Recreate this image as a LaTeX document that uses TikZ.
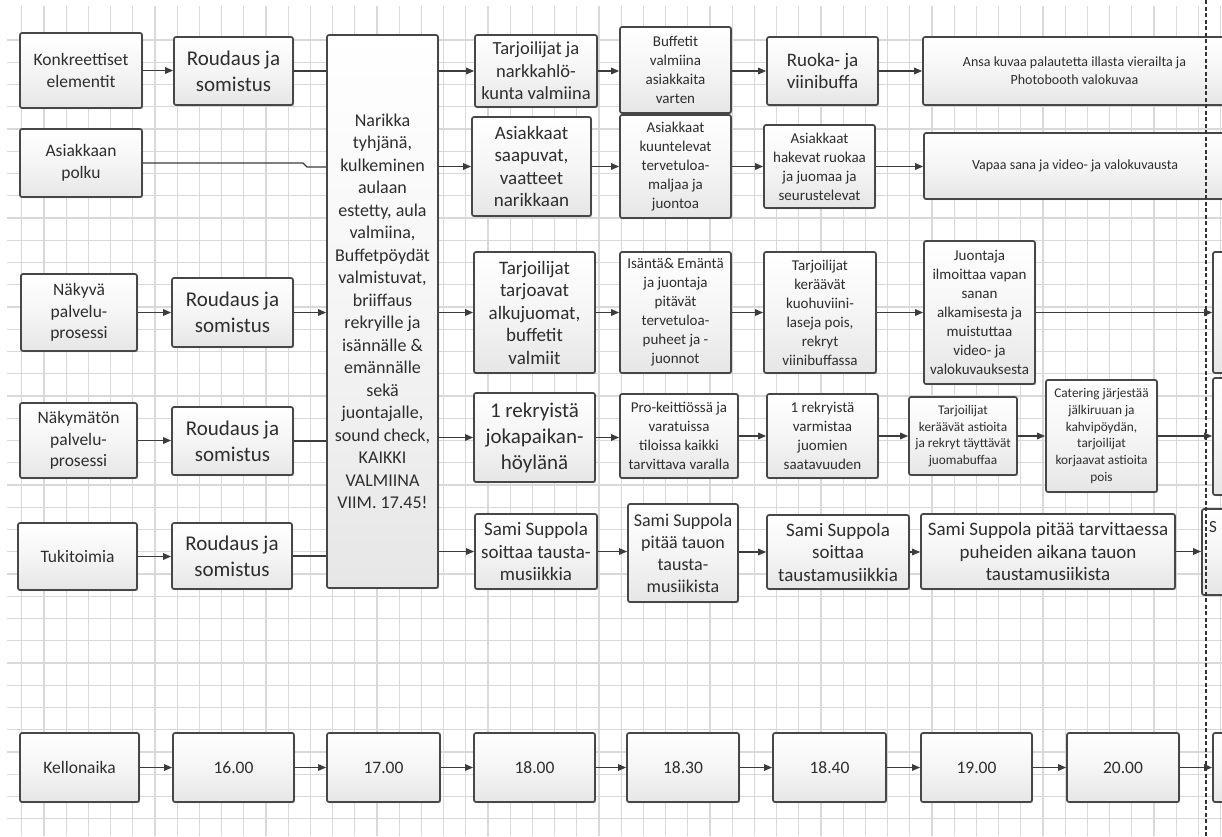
\documentclass[tikz,border=0pt]{standalone}
\usepackage{fontspec}
\setmainfont{Carlito}
\usetikzlibrary{arrows.meta,shadows}
\definecolor{boxline}{HTML}{474747}
\definecolor{boxbot}{HTML}{E6E6E6}
\definecolor{txt}{HTML}{2E2E2E}
\definecolor{gridc}{HTML}{D9D9D9}
\definecolor{conn}{HTML}{3C3C3C}
\newcommand\myfs[2]{\fontsize{#1}{#2}\selectfont}
\tikzset{
  box/.style={draw=boxline, line width=1.7pt, rounded corners=2pt, top color=white, bottom color=boxbot, middle color=white!60!boxbot, text=txt, align=center, inner sep=1pt, drop shadow={shadow xshift=1.2pt,shadow yshift=-1.2pt,opacity=0.2,fill=black}},
  sz/.style 2 args={minimum width=#1pt, minimum height=#2pt},
  lab/.style={font=\myfs{17.5}{21.5}},
  big/.style={font=\myfs{21}{26}},
  med/.style={font=\myfs{19}{22.5}},
  sml/.style={font=\myfs{15}{19}},
  tiny/.style={font=\myfs{13.3}{16.8}},
  wide/.style={font=\myfs{14}{18}},
  nar/.style={font=\myfs{18}{22.5}},
  ln/.style={draw=conn, line width=1.4pt},
  arr/.style={draw=conn, line width=1.4pt, -{Triangle[length=8pt,width=6.5pt]}},
  gridline/.style={draw=gridc, line width=1.2pt},
  dashline/.style={draw=black!80, line width=2pt, dash pattern=on 4pt off 2.5pt}
}
\begin{document}
\begin{tikzpicture}[x=1pt,y=-1pt]
\useasboundingbox (0,0) rectangle (1222,836);
\clip (0,0) rectangle (1222,836);
\fill[white] (0,0) rectangle (1222,836);
% grid
\foreach \i in {0,...,54} \draw[gridline] ({21.7+22.2*\i},6) -- ({21.7+22.2*\i},836);
\foreach \j in {0,...,36} \draw[gridline] (7,{40+22.25*\j}) -- (1222,{40+22.25*\j});

% left labels
\node[box,sz={122}{75},lab] (k1) at (81,70.5) {Konkreettiset\\elementit};
\node[box,sz={122}{68},lab] (k2) at (81,163) {Asiakkaan\\polku};
\node[box,sz={116}{77},lab] (k3) at (79,312.5) {Näkyvä\\palvelu-\\prosessi};
\node[box,sz={117}{75},lab] (k4) at (78.5,440.5) {Näkymätön\\palvelu-\\prosessi};
\node[box,sz={119}{67},lab] (k5) at (77.5,556.5) {Tukitoimia};

% roudaus
\node[box,sz={119}{68},big] (r1) at (233.5,71) {Roudaus ja\\somistus};
\node[box,sz={121}{69},big] (r3) at (232.5,312.5) {Roudaus ja\\somistus};
\node[box,sz={121}{68},big] (r4) at (232.5,441) {Roudaus ja\\somistus};
\node[box,sz={120}{66},big] (r5) at (232,556) {Roudaus ja\\somistus};

% narikka
\node[box,sz={111}{553},nar] (nar) at (382.5,311.5) {Narikka\\tyhjänä,\\kulkeminen\\aulaan\\estetty, aula\\valmiina,\\Buffetpöydät\\valmistuvat,\\briiffaus\\rekryille ja\\isännälle \&\\emännälle\\sekä\\juontajalle,\\sound check,\\KAIKKI\\VALMIINA\\VIIM. 17.45!};

% row 1
\node[box,sz={122}{72},font=\myfs{18.5}{22.5}] (a1) at (536,71) {Tarjoilijat ja\\narkkahlö-\\kunta valmiina};
\node[box,sz={111}{86},sml] (a2) at (675.5,70) {Buffetit\\valmiina\\asiakkaita\\varten};
\node[box,sz={111}{68},med] (a3) at (822.5,71) {Ruoka- ja\\viinibuffa};
\node[box,sz={303}{68},wide] (a4) at (1074.5,71) {Ansa kuvaa palautetta illasta vierailta ja\\Photobooth valokuvaa};

% row 2
\node[box,sz={119}{99},med] (b1) at (531.5,166.5) {Asiakkaat\\saapuvat,\\vaatteet\\narikkaan};
\node[box,sz={111}{103},sml] (b2) at (675.5,166.5) {Asiakkaat\\kuuntelevat\\tervetuloa-\\maljaa ja\\juontoa};
\node[box,sz={111}{83},sml] (b3) at (819.5,166.5) {Asiakkaat\\hakevat ruokaa\\ja juomaa ja\\seurustelevat};
\node[box,sz={302}{66},wide] (b4) at (1075,166) {Vapaa sana ja video- ja valokuvausta};

% row 3
\node[box,sz={121}{121},med] (c1) at (534.5,312.5) {Tarjoilijat\\tarjoavat\\alkujuomat,\\buffetit\\valmiit};
\node[box,sz={111}{121},sml] (c2) at (675.5,312.5) {Isäntä\& Emäntä\\ja juontaja\\pitävät\\tervetuloa-\\puheet ja -\\juonnot};
\node[box,sz={112}{121},sml] (c3) at (820,312.5) {Tarjoilijat\\keräävät\\kuohuviini-\\laseja pois,\\rekryt\\viinibuffassa};
\node[box,sz={111}{143},sml] (c4) at (979.5,312.5) {Juontaja\\ilmoittaa vapan\\sanan\\alkamisesta ja\\muistuttaa\\video- ja\\valokuvauksesta};
\node[box,sz={30}{121}] (c5) at (1228,312.5) {};

% row 4
\node[box,sz={121}{89},big] (d1) at (534.5,437.5) {1 rekryistä\\jokapaikan-\\höylänä};
\node[box,sz={118}{84},sml] (d2) at (679,436) {Pro-keittiössä ja\\varatuissa\\tiloissa kaikki\\tarvittava varalla};
\node[box,sz={111}{84},sml] (d3) at (822.5,436) {1 rekryistä\\varmistaa\\juomien\\saatavuuden};
\node[box,sz={108}{78},tiny] (d4) at (963,436) {Tarjoilijat\\keräävät astioita\\ja rekryt täyttävät\\juomabuffaa};
\node[box,sz={111}{112},tiny] (d5) at (1101.5,436) {Catering järjestää\\jälkiruuan ja\\kahvipöydän,\\tarjoilijat\\korjaavat astioita\\pois};
\node[box,sz={30}{117}] (d6) at (1228,436.5) {};

% row 5
\node[box,sz={122}{75},med] (e1) at (536,551.5) {Sami Suppola\\soittaa tausta-\\musiikkia};
\node[box,sz={110}{98},font=\myfs{18}{22}] (e2) at (683,553) {Sami Suppola\\pitää tauon\\tausta-\\musiikista};
\node[box,sz={142}{74},med] (e3) at (838,552) {Sami Suppola\\soittaa\\taustamusiikkia};
\node[box,sz={254}{75},med] (e4) at (1048,551.5) {Sami Suppola pitää tarvittaessa\\puheiden aikana tauon\\taustamusiikista};
\node[box,sz={40}{86}] (e5) at (1222,552) {};
\node[anchor=west,inner sep=0pt,text=txt,font=\myfs{17}{20}] (e5t) at (1209,527) {S};

% timeline
\node[box,sz={119}{69},lab] (t0) at (79.5,767.5) {Kellonaika};
\node[box,sz={121}{69},lab] (t1) at (233.5,767.5) {16.00};
\node[box,sz={113}{69},lab] (t2) at (383.5,767.5) {17.00};
\node[box,sz={121}{69},lab] (t3) at (534.5,767.5) {18.00};
\node[box,sz={112}{69},lab] (t4) at (683,767.5) {18.30};
\node[box,sz={113}{69},lab] (t5) at (829.5,767.5) {18.40};
\node[box,sz={111}{69},lab] (t6) at (976.5,767.5) {19.00};
\node[box,sz={112}{69},lab] (t7) at (1123,767.5) {20.00};
\node[box,sz={30}{69}] (t8) at (1228,767.5) {};

% connectors row 1
\draw[arr] (k1.east) -- (k1.east -| r1.west);
\draw[ln] (r1.east) -- (r1.east -| nar.west);
\draw[arr] (nar.east |- a1.west) -- (a1.west);
\draw[arr] (a1.east) -- (a1.east -| a2.west);
\draw[arr] (a2.east |- a3.west) -- (a3.west);
\draw[arr] (a3.east) -- (a3.east -| a4.west);
% row 2
\coordinate (j1) at (303,163);
\coordinate (j2) at (307,167);
\draw[ln] (k2.east) -- (j1) -- (j2) -- (j2 -| nar.west);
\draw[arr] (nar.east |- b1.west) -- (b1.west);
\draw[arr] (b1.east) -- (b1.east -| b2.west);
\draw[arr] (b2.east) -- (b2.east -| b3.west);
\draw[arr] (b3.east) -- (b3.east -| b4.west);
% row 3
\draw[arr] (k3.east) -- (k3.east -| r3.west);
\draw[arr] (r3.east) -- (r3.east -| nar.west);
\draw[arr] (nar.east |- c1.west) -- (c1.west);
\draw[arr] (c1.east) -- (c1.east -| c2.west);
\draw[arr] (c2.east) -- (c2.east -| c3.west);
\draw[arr] (c3.east) -- (c3.east -| c4.west);
\draw[arr] (c4.east) -- (c4.east -| c5.west);
% row 4
\draw[arr] (k4.east) -- (k4.east -| r4.west);
\draw[ln] (r4.east) -- (r4.east -| nar.west);
\draw[arr] (nar.east |- d1.west) -- (d1.west);
\draw[arr] (d1.east) -- (d1.east -| d2.west);
\draw[arr] (d2.east) -- (d2.east -| d3.west);
\draw[arr] (d3.east) -- (d3.east -| d4.west);
\draw[arr] (d4.east) -- (d4.east -| d5.west);
\draw[arr] (d5.east) -- (d5.east -| d6.west);
% row 5
\draw[arr] (k5.east) -- (k5.east -| r5.west);
\draw[ln] (r5.east) -- (r5.east -| nar.west);
\draw[arr] (nar.east |- e1.west) -- (e1.west);
\draw[arr] (e1.east) -- (e1.east -| e2.west);
\draw[arr] (e2.east |- e3.west) -- (e3.west);
\draw[arr] (e3.east) -- (e3.east -| e4.west);
\draw[arr] (e4.east) -- (e4.east -| e5.west);
% timeline
\draw[arr] (t0) -- (t1);
\draw[arr] (t1) -- (t2);
\draw[arr] (t2) -- (t3);
\draw[arr] (t3) -- (t4);
\draw[arr] (t4) -- (t5);
\draw[arr] (t5) -- (t6);
\draw[arr] (t6) -- (t7);
\draw[arr] (t7) -- (t8);

% dashed boundary
\coordinate (dtop) at (1206,0);
\coordinate (dbot) at (1206,836);
\draw[dashline] (dtop) -- (dbot);
\end{tikzpicture}
\end{document}
